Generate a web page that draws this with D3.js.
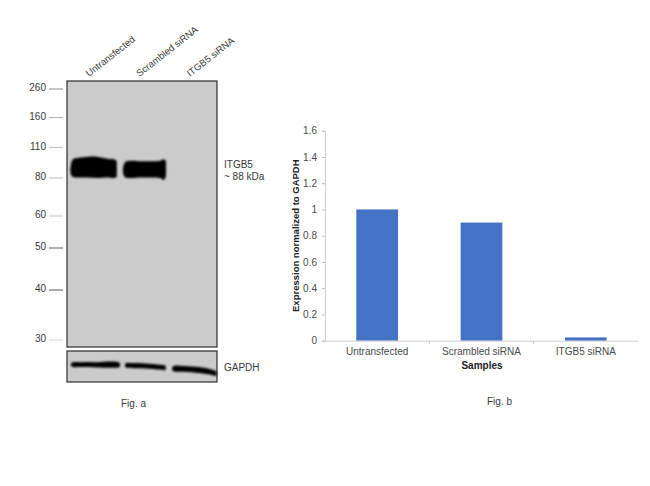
<!DOCTYPE html>
<html>
<head>
<meta charset="utf-8">
<script src="https://cdn.jsdelivr.net/npm/d3@7"></script>
<style>
  html, body { margin: 0; padding: 0; background: #fff; }
  svg { display: block; }
  text { font-family: "Liberation Sans", Arial, sans-serif; }
</style>
</head>
<body>
<svg id="fig" width="650" height="486"></svg>
<script>
const samples = ["Untransfected", "Scrambled siRNA", "ITGB5 siRNA"];
const expression = [1, 0.9, 0.025];
const yTicks = [0, 0.2, 0.4, 0.6, 0.8, 1, 1.2, 1.4, 1.6];
const markers = [260, 160, 110, 80, 60, 50, 40, 30];

// band outlines: position along the blot (%), upper and lower edge in kDa
const band1Pos = [2.5, 4, 8, 14, 20, 27, 31, 33, 33.2];
const band1Top = [92, 98.5, 100, 101, 101, 99, 98.5, 97, 92];
const band1Bottom = [84, 81, 80.5, 80.5, 80, 80.5, 80, 81, 84];
const band2Pos = [37.5, 39, 43, 50, 56, 62, 64.5, 65.8, 66];
const band2Top = [91, 96, 97, 96.5, 96.5, 97, 98.5, 97, 91];
const band2Bottom = [84, 80.5, 80, 80.5, 80.5, 80, 79, 81, 84];

// loading control bands: position (%), upper and lower edge (% of panel height)
const gapdhPos1 = [3, 10, 20, 30, 35];
const gapdhTop1 = [38, 36, 36, 34, 38];
const gapdhBottom1 = [50, 52, 53, 54, 52];
const gapdhPos2 = [39, 45, 55, 62, 65.5];
const gapdhTop2 = [40, 39, 41, 44, 47];
const gapdhBottom2 = [52, 56, 57, 60, 61];
const gapdhPos3 = [70.5, 78, 88, 95, 99.5];
const gapdhTop3 = [50, 48, 52, 58, 66];
const gapdhBottom3 = [64, 67, 71, 76, 80];

const svg = d3.select("#fig");
const textColor = "#3a3a3a";

// ---- Fig. a: western blot ----
const blotX = d3.scaleLinear().domain([0, 100]).range([67, 217]);
const kda = d3.scaleLinear().domain(markers).range([89, 117.5, 147.5, 178, 216, 248, 290, 340]);
const gapdhY = d3.scaleLinear().domain([0, 100]).range([351, 382]);
const markerShade = { 260: "#8c8c8c", 160: "#b4b4b4", 110: "#c4c4c4", 80: "#c0c0c0", 60: "#bcbcbc", 50: "#666", 40: "#555", 30: "#d6d6d6" };

svg.append("defs").append("filter").attr("id", "soft")
  .attr("x", "-10%").attr("y", "-30%").attr("width", "120%").attr("height", "160%")
  .append("feGaussianBlur").attr("stdDeviation", 0.8);

svg.append("rect")
  .attr("x", blotX(0)).attr("y", 81)
  .attr("width", blotX(100) - blotX(0)).attr("height", 266)
  .attr("fill", "#cbcbcb").attr("stroke", "#2e2e2e").attr("stroke-width", 1.2);

svg.append("rect")
  .attr("x", blotX(0)).attr("y", gapdhY(0))
  .attr("width", blotX(100) - blotX(0)).attr("height", gapdhY(100) - gapdhY(0))
  .attr("fill", "#cbcbcb").attr("stroke", "#2e2e2e").attr("stroke-width", 1.2);

function bandPath(pos, top, bottom, yScale) {
  const upper = pos.map((p, i) => [blotX(p), yScale(top[i])]);
  const lower = pos.map((p, i) => [blotX(p), yScale(bottom[i])]).reverse();
  return d3.line().curve(d3.curveCatmullRomClosed)(upper.concat(lower));
}

const bands = [
  [band1Pos, band1Top, band1Bottom, kda],
  [band2Pos, band2Top, band2Bottom, kda],
  [gapdhPos1, gapdhTop1, gapdhBottom1, gapdhY],
  [gapdhPos2, gapdhTop2, gapdhBottom2, gapdhY],
  [gapdhPos3, gapdhTop3, gapdhBottom3, gapdhY]
];
svg.selectAll(".band").data(bands).enter().append("path")
  .attr("class", "band")
  .attr("d", d => bandPath(d[0], d[1], d[2], d[3]))
  .attr("fill", "#050505")
  .attr("filter", "url(#soft)");

const markerRows = svg.selectAll(".marker").data(markers).enter().append("g")
  .attr("class", "marker")
  .attr("transform", d => `translate(0,${kda(d)})`);
markerRows.append("line")
  .attr("x1", 49).attr("x2", 63)
  .attr("stroke", d => markerShade[d]).attr("stroke-width", 1);
markerRows.append("text")
  .attr("x", 46).attr("y", 2)
  .attr("text-anchor", "end").attr("font-size", 10).attr("fill", textColor)
  .text(d => d);

const laneX = d3.scalePoint().domain(samples).range([89, 190]);
svg.selectAll(".lane").data(samples).enter().append("text")
  .attr("class", "lane")
  .attr("transform", d => `translate(${laneX(d)},77) rotate(-38)`)
  .attr("font-size", 9.5).attr("fill", textColor)
  .text(d => d);

const note = (x, y, s) => svg.append("text")
  .attr("x", x).attr("y", y).attr("font-size", 10).attr("fill", textColor).text(s);
note(224, 168, "ITGB5");
note(224, 180, "~ 88 kDa");
note(224, 371, "GAPDH");
note(121, 407, "Fig. a");

// ---- Fig. b: bar chart ----
const x = d3.scaleBand().domain(samples).range([325, 638]).paddingInner(0.6).paddingOuter(0.3);
const y = d3.scaleLinear().domain([0, 1.6]).range([340.7, 130.7]);

svg.selectAll(".bar").data(samples).enter().append("rect")
  .attr("class", "bar")
  .attr("x", d => x(d))
  .attr("y", (d, i) => y(expression[i]))
  .attr("width", x.bandwidth())
  .attr("height", (d, i) => y(0) - y(expression[i]))
  .attr("fill", "#4472c4");

const yAxis = svg.append("g")
  .attr("transform", "translate(325,0)")
  .call(d3.axisLeft(y).tickValues(yTicks).tickSize(3).tickPadding(5).tickFormat(d3.format("")));
const xAxis = svg.append("g")
  .attr("transform", `translate(0,${y(0)})`)
  .call(d3.axisBottom(x).tickSize(0).tickPadding(7));
for (const g of [yAxis, xAxis]) {
  g.selectAll(".domain").attr("stroke", "#cfcfcf");
  g.selectAll(".tick line").attr("stroke", "#bdbdbd");
  g.selectAll("text").attr("fill", "#4a4a4a").attr("font-size", 10)
    .attr("font-family", '"Liberation Sans", Arial, sans-serif');
}

// separators between the categories
svg.selectAll(".sep").data(samples.slice(1)).enter().append("line")
  .attr("class", "sep")
  .attr("x1", d => x(d) - x.step() * x.paddingInner() / 2)
  .attr("x2", d => x(d) - x.step() * x.paddingInner() / 2)
  .attr("y1", y(0)).attr("y2", y(0) + 3)
  .attr("stroke", "#bdbdbd");

svg.append("text")
  .attr("transform", `translate(299,${(y(0) + y(1.6)) / 2}) rotate(-90)`)
  .attr("text-anchor", "middle").attr("font-size", 9.5).attr("font-weight", "bold").attr("fill", "#222")
  .text("Expression normalized to GAPDH");
svg.append("text")
  .attr("x", 482).attr("y", 369)
  .attr("text-anchor", "middle").attr("font-size", 10).attr("font-weight", "bold").attr("fill", "#222")
  .text("Samples");
note(487, 405, "Fig. b");
</script>
</body>
</html>
